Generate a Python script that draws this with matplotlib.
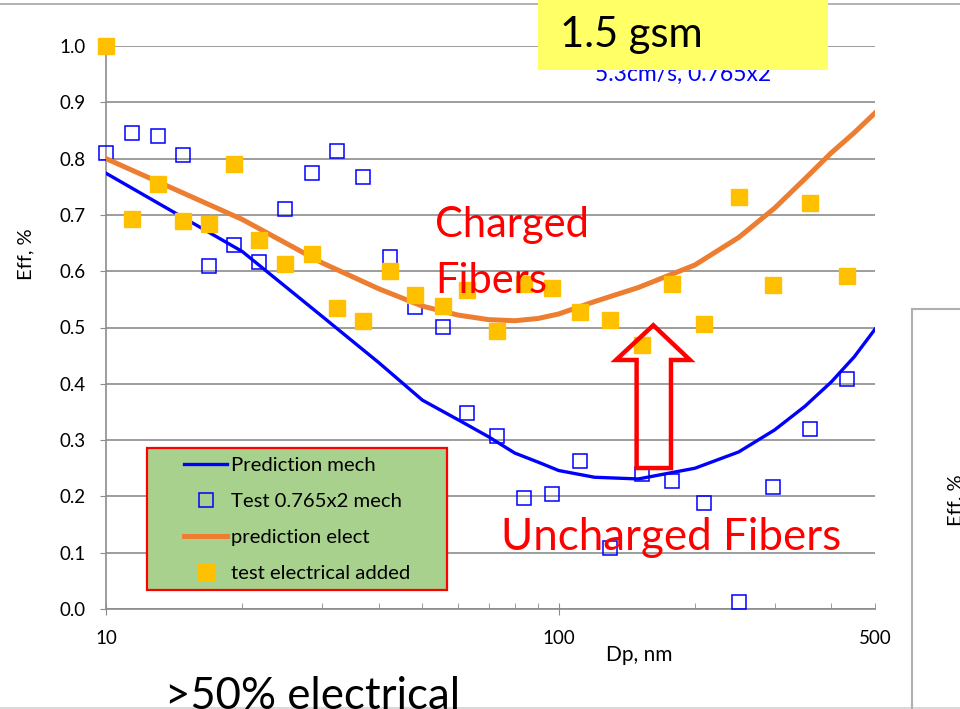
import matplotlib
matplotlib.use("Agg")
import matplotlib.pyplot as plt
from matplotlib.patches import Polygon, Rectangle
from matplotlib.lines import Line2D
from matplotlib.ticker import FixedLocator, FuncFormatter

plt.rcParams['font.family'] = ['Lato', 'DejaVu Sans']

# measured points (Dp in nm, efficiency as fraction)
dp_test = [10, 11.4, 13.0, 14.8, 16.9, 19.2, 21.8, 24.9, 28.5, 32.4, 36.9, 42.5, 48.1, 55.5,
           62.9, 73.2, 84.0, 96.5, 111.7, 129.7, 152.6, 177.8, 210, 250, 297, 359, 434]
eff_mech = [0.81, 0.846, 0.841, 0.807, 0.610, 0.646, 0.617, 0.710, 0.774, 0.814, 0.768, 0.625, 0.537, 0.501,
            0.348, 0.307, 0.197, 0.205, 0.263, 0.108, 0.240, 0.228, 0.189, 0.012, 0.217, 0.320, 0.409]
eff_elec = [1.0, 0.692, 0.755, 0.690, 0.683, 0.791, 0.655, 0.612, 0.631, 0.535, 0.512, 0.601, 0.557, 0.539,
            0.567, 0.493, 0.578, 0.571, 0.527, 0.513, 0.469, 0.578, 0.506, 0.732, 0.575, 0.722, 0.591]

# model curves
dp_pred = [10, 20, 30, 40, 50, 60, 70, 80, 90, 100, 120, 150, 200, 250, 300, 350, 400, 450, 500]
mech_pred = [0.774, 0.635, 0.52, 0.438, 0.371, 0.336, 0.306, 0.277, 0.261, 0.246, 0.234, 0.231,
             0.25, 0.279, 0.318, 0.36, 0.403, 0.448, 0.497]
elec_pred = [0.80, 0.692, 0.615, 0.569, 0.538, 0.522, 0.514, 0.512, 0.516, 0.524, 0.546, 0.571,
             0.611, 0.66, 0.712, 0.764, 0.81, 0.846, 0.881]

y_ticks = [0.0, 0.1, 0.2, 0.3, 0.4, 0.5, 0.6, 0.7, 0.8, 0.9, 1.0]
x_major = [10, 100]
x_minor = [20, 30, 40, 50, 60, 70, 80, 90, 200, 300, 400, 500]

grey = '#8c8c8c'

fig = plt.figure(figsize=(9.6, 7.09), dpi=100)
ax = fig.add_axes([106/960, 1-609/709, 769/960, 563/709])

ax.plot(dp_pred, mech_pred, color='#0000FF', lw=2.4, label='Prediction mech', zorder=3)
ax.plot(dp_test, eff_mech, ls='none', marker='s', ms=10.5, mfc='none', mec='#0000FF', mew=1.1,
        label='Test 0.765x2 mech', zorder=4, clip_on=False)
ax.plot(dp_pred, elec_pred, color='#ED7D31', lw=3.6, label='prediction elect', zorder=5)
ax.plot(dp_test, eff_elec, ls='none', marker='s', ms=11.5, mfc='#FFC000', mec='#FFC000',
        label='test electrical added', zorder=6, clip_on=False)

ax.set_xscale('log')
ax.set_xlim(10, 500)
ax.set_ylim(0, 1.0)
ax.xaxis.set_major_locator(FixedLocator(x_major))
ax.xaxis.set_major_formatter(FuncFormatter(lambda v, p: f'{v:g}'))
ax.xaxis.set_minor_locator(FixedLocator(x_minor))
ax.xaxis.set_minor_formatter(FuncFormatter(lambda v, p: '500' if abs(v-500) < 1 else ''))
ax.set_yticks(y_ticks)
ax.yaxis.set_major_formatter(FuncFormatter(lambda v, p: f'{v:.1f}'))

ax.tick_params(axis='x', which='major', direction='inout', length=8, color=grey, pad=11, labelsize=13.5)
ax.tick_params(axis='x', which='minor', direction='in', length=4, color=grey, pad=15, labelsize=13.5)
ax.tick_params(axis='y', which='major', direction='out', length=4.3, color=grey, pad=10.5, labelsize=13.5)

ax.grid(axis='y', color=grey, lw=1.2)
ax.set_axisbelow(True)
for s in ['top', 'right']:
    ax.spines[s].set_visible(False)
for s in ['left', 'bottom']:
    ax.spines[s].set_color(grey)
    ax.spines[s].set_linewidth(1.2)

ax.text(-0.104, 0.631, 'Eff, %', transform=ax.transAxes, rotation=90, ha='center', va='center', fontsize=14.5)
ax.text(0.693, -0.0817, 'Dp, nm', transform=ax.transAxes, ha='center', va='center', fontsize=15)

# legend box
ax.add_patch(Rectangle((0.0529, 0.0337), 0.391, 0.2517, transform=ax.transAxes,
                       fc='#A9D18E', ec='#FF0000', lw=1.6, zorder=7))
leg = ax.legend(loc='upper left', bbox_to_anchor=(0.1018, 0.2705), frameon=False, borderpad=0,
                borderaxespad=0, handlelength=2.1, handletextpad=0.22, labelspacing=0.93, fontsize=14.6)
leg.set_zorder(8)

# annotations
ax.text(0.4278, 0.6607, 'Charged', transform=ax.transAxes, color='#FF0000', fontsize=30, va='baseline', zorder=9)
ax.text(0.4278, 0.5613, 'Fibers', transform=ax.transAxes, color='#FF0000', fontsize=30, va='baseline', zorder=9)
ax.text(0.5137, 0.1048, 'Uncharged Fibers', transform=ax.transAxes, color='#FF0000', fontsize=31.6, va='baseline', zorder=9)

arrow_pts = [(0.7117, 0.504), (0.7594, 0.4423), (0.7347, 0.4423), (0.7347, 0.2504),
             (0.690, 0.2504), (0.690, 0.4423), (0.6632, 0.4423)]
ax.add_patch(Polygon(arrow_pts, closed=True, fill=False, ec='#FF0000', lw=3.2, joinstyle='miter',
                     transform=ax.transAxes, zorder=10, clip_on=False))

# slide decorations
fig.add_artist(Line2D([0, 1], [1-4.3/709, 1-4.3/709], color='#a6a6a6', lw=1.2))
fig.text(595/960, 1-81/709, '5.3cm/s, 0.765x2', color='#0000FF', fontsize=16.5, va='baseline', ha='left')
fig.add_artist(Rectangle((538/960, 1-70/709), 290/960, 70/709, transform=fig.transFigure,
                         fc='#FFFF66', ec='none', zorder=5))
fig.text(560/960, 1-46.7/709, '1.5 gsm', fontsize=30, va='baseline', ha='left', zorder=6)
fig.text(165/960, 0.0, '>50% electrical', fontsize=31.5, va='baseline', ha='left')
fig.add_artist(Line2D([0, 1], [1.5/709, 1.5/709], color='#d9d9d9', lw=1.5))

fig.add_artist(Line2D([912/960, 912/960], [0, 1-309/709], color='#b0b0b0', lw=1.5))
fig.add_artist(Line2D([912/960, 1], [1-309/709, 1-309/709], color='#b0b0b0', lw=1.5))
fig.text(956/960, 1-500/709, 'Eff, %', rotation=90, ha='center', va='center', fontsize=14.5)

fig.savefig('out.png', dpi=100)
